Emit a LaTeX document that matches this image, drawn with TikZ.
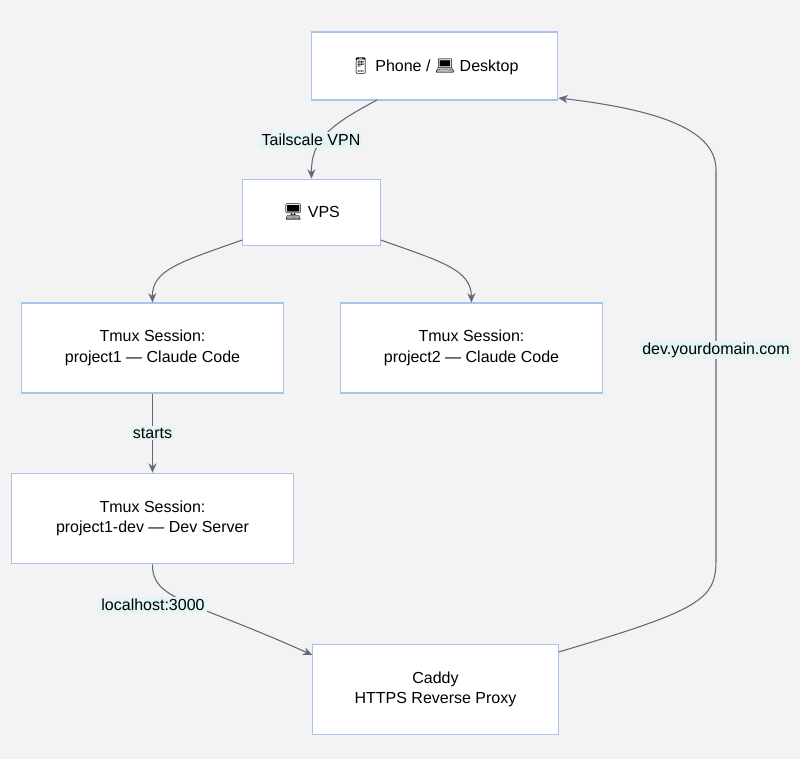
\documentclass[tikz,border=0pt]{standalone}
\usepackage{fontspec}
\setmainfont{Liberation Sans}
\newfontfamily\emo{Noto Emoji}
\usetikzlibrary{arrows.meta}
\definecolor{bg}{HTML}{F3F3F3}
\definecolor{bd}{HTML}{A9C3EC}
\definecolor{ln}{HTML}{5F6A7A}
\definecolor{lb}{HTML}{E4F3F3}
\begin{document}
\begin{tikzpicture}[x=0.75pt,y=-0.75pt,
  box/.style={draw=bd,fill=white,line width=0.8pt,align=center,font=\fontsize{12}{15.5}\selectfont,inner sep=0pt},
  edge/.style={draw=ln,line width=0.8pt,-{Stealth[length=7pt,width=6pt]}},
  lbl/.style={fill=lb,font=\fontsize{12}{14}\selectfont,inner sep=1.5pt}]
\fill[bg] (0,0) rectangle (800,759);
\useasboundingbox (0,0) rectangle (800,759);
\node[box,minimum width=185pt,minimum height=51pt] (top) at (434.5,66) {{\emo 📱} Phone / {\emo 💻} Desktop};
\node[box,minimum width=103pt,minimum height=50pt] (vps) at (311.5,212.5) {{\emo 🖥} VPS};
\node[box,minimum width=196pt,minimum height=67.5pt] (p1) at (152.5,348) {Tmux Session:\\project1 — Claude Code};
\node[box,minimum width=197pt,minimum height=67.5pt] (p2) at (471.5,348) {Tmux Session:\\project2 — Claude Code};
\node[box,minimum width=211pt,minimum height=68pt] (dev) at (152.5,518.5) {Tmux Session:\\project1-dev — Dev Server};
\node[box,minimum width=184pt,minimum height=68pt] (cad) at (435.5,689.5) {Caddy\\HTTPS Reverse Proxy};
\coordinate (r1) at (716,560);
\coordinate (r2) at (716,170);
\draw[edge] (377,100) .. controls (330,125) and (311,140) .. (vps.north);
\node[lbl] (l1) at (311,140) {Tailscale VPN};
\draw[edge] (vps.west |- 0,240) .. controls (180,262) and (152,270) .. (p1.north);
\draw[edge] (vps.east |- 0,240) .. controls (443,262) and (471,270) .. (p2.north);
\draw[edge] (p1.south) -- (dev.north) node[lbl,midway] (l2) {starts};
\draw[edge] (dev.south) .. controls (152,600) and (190,600) .. (cad.west |- 0,655);
\node[lbl] (l3) at (153,605) {localhost:3000};
\draw[edge] (cad.east |- 0,652) .. controls (700,610) and (716,600) .. (r1) -- (r2) .. controls (716,130) and (660,110) .. (top.east |- 0,98);
\node[lbl] (l4) at (716,350) {dev.yourdomain.com};
\end{tikzpicture}
\end{document}
